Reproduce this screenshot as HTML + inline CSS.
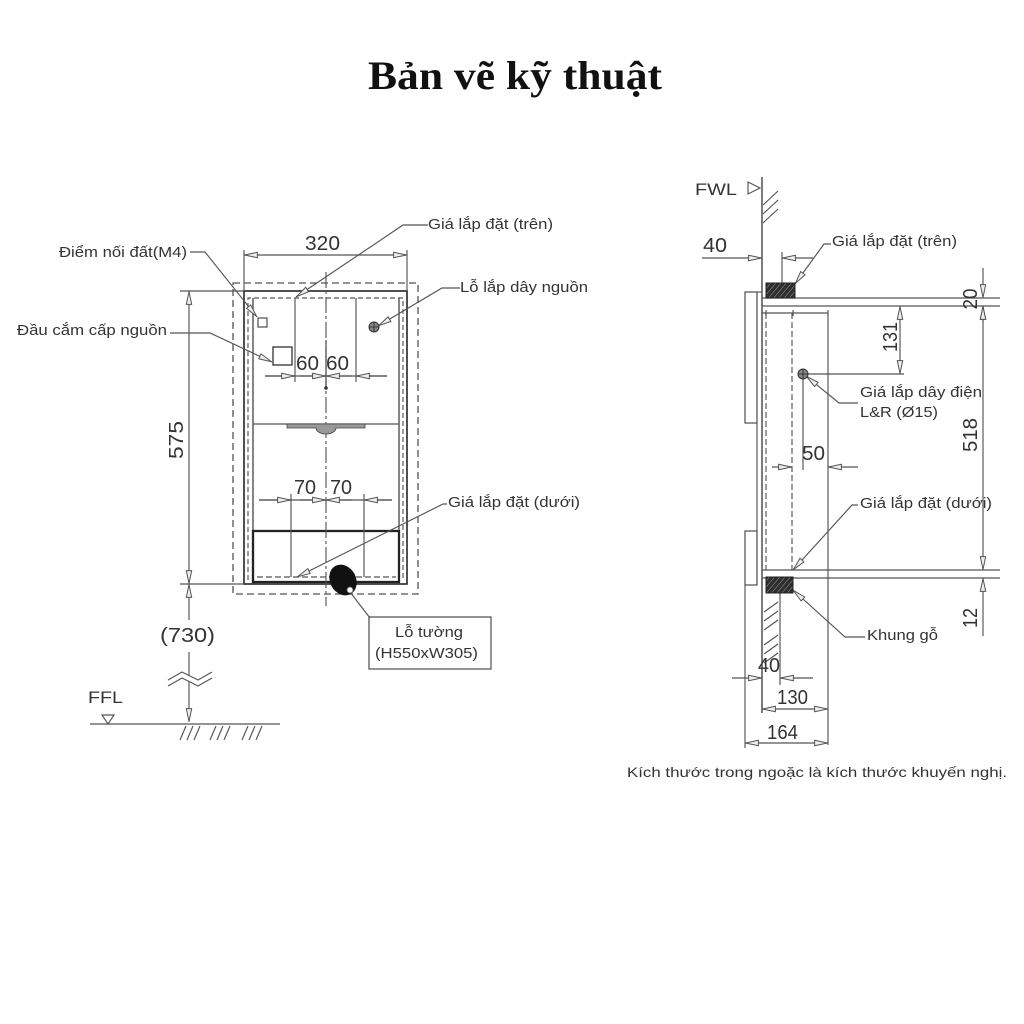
<!DOCTYPE html>
<html><head><meta charset="utf-8"><style>
html,body{margin:0;padding:0;background:#fff;}
svg{display:block;}
text{font-family:"Liberation Sans",sans-serif;fill:#333;}
</style></head><body>
<svg width="1024" height="1024" viewBox="0 0 1024 1024" xmlns="http://www.w3.org/2000/svg">
<defs>
<marker id="a" viewBox="0 0 14 7" refX="14" refY="3.5" markerWidth="14" markerHeight="7" markerUnits="userSpaceOnUse" orient="auto-start-reverse"><path d="M0.6,0.8 L13.4,3.5 L0.6,6.2 Z" fill="#eee" stroke="#555" stroke-width="1"/></marker>
<pattern id="h" width="4" height="4" patternUnits="userSpaceOnUse" patternTransform="rotate(40)"><rect width="4" height="4" fill="#2e2e2e"/><line x1="0" y1="0" x2="0" y2="4" stroke="#999" stroke-width="1"/></pattern>
</defs>

<!-- Title -->
<text x="368" y="89" style="font-family:'Liberation Serif',serif;font-weight:bold;font-size:40px;fill:#111" textLength="294" lengthAdjust="spacingAndGlyphs">Bản vẽ kỹ thuật</text>

<!-- ============ LEFT DRAWING ============ -->
<g stroke="#555" stroke-width="1.15" fill="none">
  <rect x="233" y="283" width="185" height="311" stroke-dasharray="7 4" stroke-width="1.3"/>
  <rect x="244" y="291" width="163" height="293" stroke="#333" stroke-width="1.7"/>
  <line x1="253" y1="298" x2="253" y2="584" stroke="#444" stroke-width="1.3"/>
  <line x1="399" y1="298" x2="399" y2="584" stroke="#444" stroke-width="1.3"/>
  <polyline points="248,580 248,298 403,298 403,580" stroke-dasharray="5 3"/>
  <rect x="253" y="531" width="146" height="51" stroke="#222" stroke-width="2.3"/>
  <line x1="257" y1="577" x2="396" y2="577" stroke-dasharray="6 3"/>
  <line x1="253" y1="424" x2="399" y2="424"/>
  <line x1="326" y1="272" x2="326" y2="606" stroke-dasharray="16 3 3 3"/>
  <line x1="326" y1="340" x2="326" y2="388" stroke="#444"/>
  <line x1="244" y1="250" x2="244" y2="291"/>
  <line x1="407" y1="250" x2="407" y2="291"/>
  <line x1="326" y1="255" x2="244" y2="255" marker-end="url(#a)"/>
  <line x1="326" y1="255" x2="407" y2="255" marker-end="url(#a)"/>
  <line x1="295" y1="298" x2="295" y2="382"/>
  <line x1="356" y1="298" x2="356" y2="382"/>
  <line x1="265" y1="376" x2="387" y2="376"/>
  <line x1="265" y1="376" x2="295" y2="376" marker-end="url(#a)"/>
  <line x1="300" y1="376" x2="326" y2="376" marker-end="url(#a)"/>
  <line x1="352" y1="376" x2="326" y2="376" marker-end="url(#a)"/>
  <line x1="387" y1="376" x2="356" y2="376" marker-end="url(#a)"/>
  <line x1="291" y1="494" x2="291" y2="577"/>
  <line x1="364" y1="494" x2="364" y2="577"/>
  <line x1="259" y1="500" x2="392" y2="500"/>
  <line x1="259" y1="500" x2="291" y2="500" marker-end="url(#a)"/>
  <line x1="300" y1="500" x2="326" y2="500" marker-end="url(#a)"/>
  <line x1="352" y1="500" x2="326" y2="500" marker-end="url(#a)"/>
  <line x1="392" y1="500" x2="364" y2="500" marker-end="url(#a)"/>
  <rect x="258" y="318" width="9" height="9" stroke="#444"/>
  <rect x="273" y="347" width="19" height="18" stroke="#333" stroke-width="1.3"/>
  <line x1="180" y1="291" x2="244" y2="291"/>
  <line x1="180" y1="584" x2="244" y2="584"/>
  <line x1="189" y1="437" x2="189" y2="291" marker-end="url(#a)"/>
  <line x1="189" y1="437" x2="189" y2="584" marker-end="url(#a)"/>
  <line x1="189" y1="620" x2="189" y2="584" marker-end="url(#a)"/>
  <line x1="189" y1="652" x2="189" y2="722" marker-end="url(#a)"/>
  <line x1="90" y1="724" x2="280" y2="724"/>
  <path d="M180,740 L186,726 M187,740 L193,726 M194,740 L200,726 M210,740 L216,726 M217,740 L223,726 M224,740 L230,726 M242,740 L248,726 M249,740 L255,726 M256,740 L262,726"/>
  <polygon points="102,715 114,715 108,724"/>
  <polyline points="190,252 205,252 257,317" marker-end="url(#a)"/>
  <polyline points="170,333 210,333 272,362" marker-end="url(#a)"/>
  <polyline points="428,225 403,225 296,297" marker-end="url(#a)"/>
  <polyline points="460,288 442,288 378,326" marker-end="url(#a)"/>
  <polyline points="447,504 443,504 297,577" marker-end="url(#a)"/>
  <line x1="370" y1="618" x2="350" y2="592"/>
  <rect x="369" y="617" width="122" height="52" stroke="#444"/>
</g>
<polygon points="168,680 182,672 198,680 212,672 212,678 198,686 182,678 168,686" fill="#fff" stroke="none"/>
<path d="M168,680 L182,672 L198,680 L212,672 M168,686 L182,678 L198,686 L212,678" stroke="#555" stroke-width="1.15" fill="none"/>
<path d="M287,424 L365,424 L365,428 L336,428 A10,6 0 0 1 316,428 L287,428 Z" fill="#999" stroke="#444" stroke-width="0.8"/>
<circle cx="326" cy="388" r="1.8" fill="#333"/>
<circle cx="374" cy="327" r="5" fill="#888" stroke="#333"/>
<path d="M369,327 H379 M374,322 V332" stroke="#222" stroke-width="0.8"/>
<ellipse cx="343" cy="580" rx="13" ry="16" transform="rotate(-28 343 580)" fill="#111"/>
<circle cx="350" cy="590" r="3" fill="#fff" stroke="#666" stroke-width="0.8"/>

<g style="font-size:14.5px">
<text x="59" y="257" textLength="128" lengthAdjust="spacingAndGlyphs">Điểm nối đất(M4)</text>
<text x="17" y="335" textLength="150" lengthAdjust="spacingAndGlyphs">Đầu cắm cấp nguồn</text>
<text x="428" y="229" textLength="125" lengthAdjust="spacingAndGlyphs">Giá lắp đặt (trên)</text>
<text x="460" y="292" textLength="128" lengthAdjust="spacingAndGlyphs">Lỗ lắp dây nguồn</text>
<text x="448" y="507" textLength="132" lengthAdjust="spacingAndGlyphs">Giá lắp đặt (dưới)</text>
<text x="395" y="637" textLength="68" lengthAdjust="spacingAndGlyphs">Lỗ tường</text>
<text x="375" y="658" textLength="103" lengthAdjust="spacingAndGlyphs">(H550xW305)</text>
</g>
<g style="font-size:20px">
<text x="305" y="250" textLength="35" lengthAdjust="spacingAndGlyphs">320</text>
<text x="296" y="370" textLength="23" lengthAdjust="spacingAndGlyphs">60</text>
<text x="326" y="370" textLength="23" lengthAdjust="spacingAndGlyphs">60</text>
<text x="294" y="494" textLength="22" lengthAdjust="spacingAndGlyphs">70</text>
<text x="330" y="494" textLength="22" lengthAdjust="spacingAndGlyphs">70</text>
<text x="160" y="642" textLength="55" lengthAdjust="spacingAndGlyphs">(730)</text>
<text transform="translate(183,440) rotate(-90)" text-anchor="middle" textLength="38" lengthAdjust="spacingAndGlyphs">575</text>
</g>
<text x="88" y="703" style="font-size:17px" textLength="35" lengthAdjust="spacingAndGlyphs">FFL</text>

<!-- ============ RIGHT DRAWING ============ -->
<g stroke="#555" stroke-width="1.15" fill="none">
  <line x1="762" y1="177" x2="762" y2="713" stroke="#444" stroke-width="1.4"/>
  <path d="M763,205 L778,191 M763,214 L778,200 M763,223 L778,209"/>
  <polygon points="748,182 760,188 748,194"/>
  <line x1="762" y1="298" x2="1000" y2="298"/>
  <line x1="762" y1="306" x2="1000" y2="306"/>
  <line x1="762" y1="570" x2="1000" y2="570"/>
  <line x1="762" y1="578" x2="1000" y2="578"/>
  <line x1="762" y1="313" x2="828" y2="313"/>
  <path d="M766,310 V316 M793,310 V316 M828,310 V316"/>
  <line x1="828" y1="313" x2="828" y2="745"/>
  <line x1="766" y1="313" x2="766" y2="570" stroke-dasharray="6 3"/>
  <line x1="792" y1="313" x2="792" y2="570" stroke-dasharray="6 3"/>
  <rect x="745" y="292" width="12" height="131" stroke="#444"/>
  <rect x="745" y="531" width="12" height="54" stroke="#444"/>
  <line x1="757" y1="292" x2="757" y2="585"/>
  <line x1="757" y1="292" x2="762" y2="292"/>
  <line x1="780" y1="593" x2="780" y2="685"/>
  <path d="M764,612 L778,602 M764,621 L778,611 M764,630 L778,620 M764,645 L778,635 M764,654 L778,644 M764,663 L778,653"/>
  <line x1="782" y1="252" x2="782" y2="283"/>
  <line x1="702" y1="258" x2="762" y2="258" marker-end="url(#a)"/>
  <line x1="813" y1="258" x2="782" y2="258" marker-end="url(#a)"/>
  <line x1="983" y1="268" x2="983" y2="298" marker-end="url(#a)"/>
  <line x1="983" y1="322" x2="983" y2="306" marker-end="url(#a)"/>
  <line x1="983" y1="437" x2="983" y2="306" marker-end="url(#a)"/>
  <line x1="983" y1="437" x2="983" y2="570" marker-end="url(#a)"/>
  <line x1="983" y1="636" x2="983" y2="578" marker-end="url(#a)"/>
  <line x1="803" y1="374" x2="904" y2="374"/>
  <line x1="900" y1="340" x2="900" y2="306" marker-end="url(#a)"/>
  <line x1="900" y1="340" x2="900" y2="374" marker-end="url(#a)"/>
  <line x1="803" y1="374" x2="803" y2="470"/>
  <line x1="772" y1="467" x2="792" y2="467" marker-end="url(#a)"/>
  <line x1="858" y1="467" x2="828" y2="467" marker-end="url(#a)"/>
  <line x1="732" y1="678" x2="762" y2="678" marker-end="url(#a)"/>
  <line x1="813" y1="678" x2="780" y2="678" marker-end="url(#a)"/>
  <line x1="795" y1="709" x2="762" y2="709" marker-end="url(#a)"/>
  <line x1="795" y1="709" x2="828" y2="709" marker-end="url(#a)"/>
  <line x1="745" y1="585" x2="745" y2="748"/>
  <line x1="786" y1="743" x2="745" y2="743" marker-end="url(#a)"/>
  <line x1="786" y1="743" x2="828" y2="743" marker-end="url(#a)"/>
  <polyline points="831,244 824,244 795,284" marker-end="url(#a)"/>
  <polyline points="858,403 839,403 806,376" marker-end="url(#a)"/>
  <polyline points="858,505 852,505 793,570" marker-end="url(#a)"/>
  <polyline points="865,637 845,637 793,590" marker-end="url(#a)"/>
</g>
<rect x="766" y="283" width="29" height="15" fill="url(#h)" stroke="#222"/>
<rect x="766" y="577" width="27" height="16" fill="url(#h)" stroke="#222"/>
<circle cx="803" cy="374" r="5" fill="#888" stroke="#333"/>
<path d="M798,374 H808 M803,369 V379" stroke="#222" stroke-width="0.8"/>

<text x="695" y="195" style="font-size:17px" textLength="42" lengthAdjust="spacingAndGlyphs">FWL</text>
<g style="font-size:14.5px">
<text x="832" y="246" textLength="125" lengthAdjust="spacingAndGlyphs">Giá lắp đặt (trên)</text>
<text x="860" y="397" textLength="122" lengthAdjust="spacingAndGlyphs">Giá lắp dây điện</text>
<text x="860" y="417" textLength="78" lengthAdjust="spacingAndGlyphs">L&amp;R (Ø15)</text>
<text x="860" y="508" textLength="132" lengthAdjust="spacingAndGlyphs">Giá lắp đặt (dưới)</text>
<text x="867" y="640" textLength="71" lengthAdjust="spacingAndGlyphs">Khung gỗ</text>
</g>
<g style="font-size:20px">
<text x="703" y="252" textLength="24" lengthAdjust="spacingAndGlyphs">40</text>
<text x="802" y="460" textLength="23" lengthAdjust="spacingAndGlyphs">50</text>
<text x="758" y="672" textLength="22" lengthAdjust="spacingAndGlyphs">40</text>
<text x="777" y="704" textLength="31" lengthAdjust="spacingAndGlyphs">130</text>
<text x="767" y="739" textLength="31" lengthAdjust="spacingAndGlyphs">164</text>
<text transform="translate(897,337) rotate(-90)" text-anchor="middle" textLength="30" lengthAdjust="spacingAndGlyphs">131</text>
<text transform="translate(977,299) rotate(-90)" text-anchor="middle" textLength="21" lengthAdjust="spacingAndGlyphs">20</text>
<text transform="translate(977,435) rotate(-90)" text-anchor="middle" textLength="34" lengthAdjust="spacingAndGlyphs">518</text>
<text transform="translate(977,618) rotate(-90)" text-anchor="middle" textLength="20" lengthAdjust="spacingAndGlyphs">12</text>
</g>
<text x="627" y="777" style="font-size:14px" textLength="380" lengthAdjust="spacingAndGlyphs">Kích thước trong ngoặc là kích thước khuyến nghị.</text>
</svg>
</body></html>
